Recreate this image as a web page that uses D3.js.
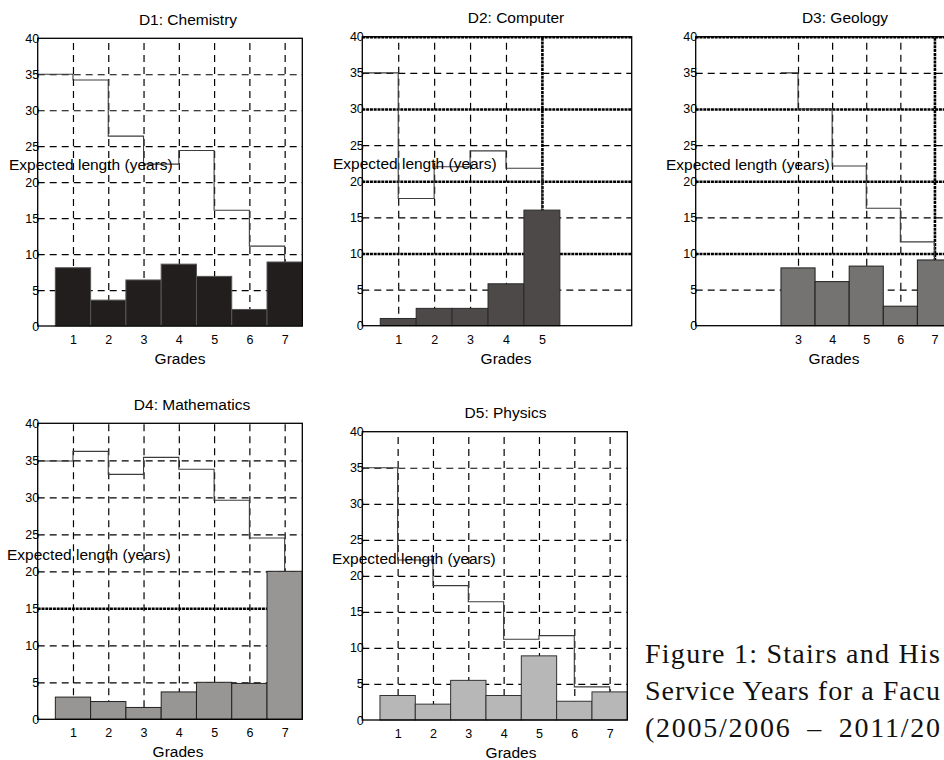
<!DOCTYPE html>
<html>
<head>
<meta charset="utf-8">
<script src="https://cdn.jsdelivr.net/npm/d3@7/dist/d3.min.js"></script>
<style>
  body { margin: 0; background: #fff; }
  svg { display: block; }
</style>
</head>
<body>
<div id="chart"></div>
<script>
// values
const grades = [1, 2, 3, 4, 5, 6, 7];
const yTicks = [0, 5, 10, 15, 20, 25, 30, 35, 40];

const chemTitle = "D1: Chemistry";
const chemBars = [8.1, 3.6, 6.4, 8.6, 6.9, 2.3, 8.9];
const chemStairX = [0, 1, 2, 3, 4, 5, 6, 7];
const chemStairY = [35, 34.2, 26.4, 22.5, 24.4, 16.1, 11.1, 8.9];
const chemTicks = [1, 2, 3, 4, 5, 6, 7];

const compTitle = "D2: Computer";
const compBars = [1.0, 2.4, 2.4, 5.8, 16.0, 0, 0];
const compStairX = [0, 1, 2, 3, 4, 5];
const compStairY = [35, 17.6, 22.0, 24.2, 21.8, 16.0];
const compTicks = [1, 2, 3, 4, 5];

const geoTitle = "D3: Geology";
const geoBars = [0, 0, 8.0, 6.1, 8.25, 2.7, 9.1];
const geoStairX = [2.5, 3, 4, 5, 6, 7];
const geoStairY = [35, 30, 22.1, 16.25, 11.6, 9.1];
const geoTicks = [3, 4, 5, 6, 7];

const mathTitle = "D4: Mathematics";
const mathBars = [3.0, 2.4, 1.6, 3.7, 5.0, 4.85, 20.0];
const mathStairX = [0, 1, 2, 3, 4, 5, 6, 7];
const mathStairY = [34.9, 36.2, 33.1, 35.4, 33.8, 29.6, 24.5, 20.0];
const mathTicks = [1, 2, 3, 4, 5, 6, 7];

const physTitle = "D5: Physics";
const physBars = [3.4, 2.2, 5.5, 3.4, 8.9, 2.6, 3.9];
const physStairX = [0, 1, 2, 3, 4, 5, 6, 7];
const physStairY = [35, 22.2, 18.65, 16.4, 11.2, 11.7, 4.6, 3.9];
const physTicks = [1, 2, 3, 4, 5, 6, 7];

const yLabel = "Expected length (years)";
const xLabel = "Grades";
// the caption runs off the right edge of the page in the original
const captionLines = [
  "Figure 1: Stairs and His",
  "Service Years for a Facu",
  "(2005/2006\u2002\u2013\u20022011/20"
];

const width = 944, height = 760;

// panel layout: plot box, label spots, bar colour, heavy grid lines
const panels = [
  { title: chemTitle, bars: chemBars, sx: chemStairX, sy: chemStairY, ticks: chemTicks,
    left: 37.7, right: 302.3, top: 38.3, bottom: 326, fill: "#221e1d", edge: "#555",
    titleX: 188, ylabX: 9, ylabY: 170, gradesX: 180, heavyY: [], heavyX: [] },
  { title: compTitle, bars: compBars, sx: compStairX, sy: compStairY, ticks: compTicks,
    left: 362.3, right: 631.7, top: 36.7, bottom: 325.7, fill: "#4c4948", edge: "#2a2a2a",
    titleX: 516, ylabX: 333, ylabY: 169, gradesX: 506, heavyY: [10, 20, 30, 40], heavyX: [5] },
  { title: geoTitle, bars: geoBars, sx: geoStairX, sy: geoStairY, ticks: geoTicks,
    left: 695.7, right: 951.5, top: 36.7, bottom: 325.7, fill: "#747372", edge: "#1e1e1e",
    titleX: 845, ylabX: 666, ylabY: 170, gradesX: 834, heavyY: [10, 20, 30, 40], heavyX: [7] },
  { title: mathTitle, bars: mathBars, sx: mathStairX, sy: mathStairY, ticks: mathTicks,
    left: 37.7, right: 302.3, top: 423.3, bottom: 719.3, fill: "#979695", edge: "#222",
    titleX: 192, ylabX: 7, ylabY: 560, gradesX: 178, heavyY: [15], heavyX: [] },
  { title: physTitle, bars: physBars, sx: physStairX, sy: physStairY, ticks: physTicks,
    left: 362.3, right: 627.3, top: 431.7, bottom: 720, fill: "#b7b7b7", edge: "#333",
    titleX: 505.5, ylabX: 332, ylabY: 564, gradesX: 511, heavyY: [], heavyX: [] }
];

const svg = d3.select("#chart").append("svg")
    .attr("width", width)
    .attr("height", height)
    .style("background", "#fff");

const sans = "'Liberation Sans', Arial, Helvetica, sans-serif";

function drawPanel(p, i) {
    const w = p.right - p.left;
    const x = d3.scaleLinear().domain([0, 7.5]).range([p.left, p.right]);
    const y = d3.scaleLinear().domain([0, 40]).range([p.bottom, p.top]);

    svg.append("clipPath").attr("id", "clip" + i)
      .append("rect")
        .attr("x", p.left).attr("y", p.top - 2)
        .attr("width", w + 2).attr("height", p.bottom - p.top + 4);

    const g = svg.append("g");
    const plot = g.append("g").attr("clip-path", "url(#clip" + i + ")");

    // dashed grid
    plot.append("g")
        .attr("transform", `translate(${p.left},0)`)
        .call(d3.axisLeft(y).tickValues(yTicks.filter(v => v > 0 && v < 40 && p.heavyY.indexOf(v) < 0))
            .tickSize(-w).tickFormat(""))
        .call(a => a.select(".domain").remove())
        .selectAll("line")
          .attr("stroke", "#000").attr("stroke-width", 1.2).attr("stroke-dasharray", "7,5");

    plot.append("g")
        .attr("transform", `translate(0,${p.bottom})`)
        .call(d3.axisBottom(x).tickValues(p.ticks.filter(v => p.heavyX.indexOf(v) < 0))
            .tickSize(-(p.bottom - p.top)).tickFormat(""))
        .call(a => a.select(".domain").remove())
        .selectAll("line")
          .attr("stroke", "#000").attr("stroke-width", 1.2).attr("stroke-dasharray", "7,5");

    // heavy grid lines
    if (p.heavyY.length) {
        plot.append("g")
            .attr("transform", `translate(${p.left},0)`)
            .call(d3.axisLeft(y).tickValues(p.heavyY).tickSize(-w).tickFormat(""))
            .call(a => a.select(".domain").remove())
            .selectAll("line")
              .attr("stroke", "#000").attr("stroke-width", 2.6).attr("stroke-dasharray", "3,0.8");
    }
    if (p.heavyX.length) {
        plot.append("g")
            .attr("transform", `translate(0,${p.bottom})`)
            .call(d3.axisBottom(x).tickValues(p.heavyX).tickSize(-(p.bottom - p.top)).tickFormat(""))
            .call(a => a.select(".domain").remove())
            .selectAll("line")
              .attr("stroke", "#000").attr("stroke-width", 2.6).attr("stroke-dasharray", "3,0.8");
    }

    // stairs
    const stairs = p.sx.map((v, k) => [v, p.sy[k]]);
    plot.append("path")
        .datum(stairs)
        .attr("fill", "none")
        .attr("stroke", "#3c3c3c")
        .attr("stroke-width", 1.1)
        .attr("d", d3.line()
            .x(d => x(d[0]))
            .y(d => y(d[1]))
            .curve(d3.curveStepAfter));

    // histogram bars
    plot.selectAll("rect.bar")
        .data(grades.map((gr, k) => ({ grade: gr, value: p.bars[k] })).filter(d => d.value > 0))
        .enter()
        .append("rect")
          .attr("class", "bar")
          .attr("x", d => x(d.grade - 0.5))
          .attr("y", d => y(d.value))
          .attr("width", d => x(d.grade + 0.5) - x(d.grade - 0.5))
          .attr("height", d => y(0) - y(d.value))
          .attr("fill", p.fill)
          .attr("stroke", p.edge)
          .attr("stroke-width", 1);

    // box
    g.append("rect")
        .attr("x", p.left).attr("y", p.top)
        .attr("width", w).attr("height", p.bottom - p.top)
        .attr("fill", "none")
        .attr("stroke", "#000")
        .attr("stroke-width", 1.3);

    // tick labels
    g.append("g")
        .attr("transform", `translate(${p.left},0)`)
        .call(d3.axisLeft(y).tickValues(yTicks).tickSize(0).tickPadding(-1.5))
        .call(a => a.select(".domain").remove())
        .selectAll("text")
          .attr("font-family", sans).attr("font-size", 12.5).attr("fill", "#000");

    g.append("g")
        .attr("transform", `translate(0,${p.bottom})`)
        .call(d3.axisBottom(x).tickValues(p.ticks).tickSize(0).tickPadding(9))
        .call(a => a.select(".domain").remove())
        .selectAll("text")
          .attr("font-family", sans).attr("font-size", 12.5).attr("fill", "#000");

    // titles and labels
    g.append("text")
        .attr("x", p.titleX).attr("y", p.top - 13.5)
        .attr("text-anchor", "middle")
        .attr("font-family", sans).attr("font-size", 15.5)
        .text(p.title);

    g.append("text")
        .attr("x", p.ylabX).attr("y", p.ylabY)
        .attr("font-family", sans).attr("font-size", 15.5)
        .text(yLabel);

    g.append("text")
        .attr("x", p.gradesX).attr("y", p.bottom + 38)
        .attr("text-anchor", "middle")
        .attr("font-family", sans).attr("font-size", 15.5)
        .text(xLabel);
}

panels.forEach(drawPanel);

// caption on the right, stretched to the page edge like the original
svg.append("g")
    .selectAll("text")
    .data(captionLines)
    .enter()
    .append("text")
      .attr("x", 645)
      .attr("y", (d, k) => 663 + k * 37)
      .attr("font-family", "'Liberation Serif', 'Times New Roman', serif")
      .attr("font-size", 28)
      .attr("textLength", 295)
      .attr("lengthAdjust", "spacing")
      .attr("fill", "#111")
      .text(d => d);
</script>
</body>
</html>
